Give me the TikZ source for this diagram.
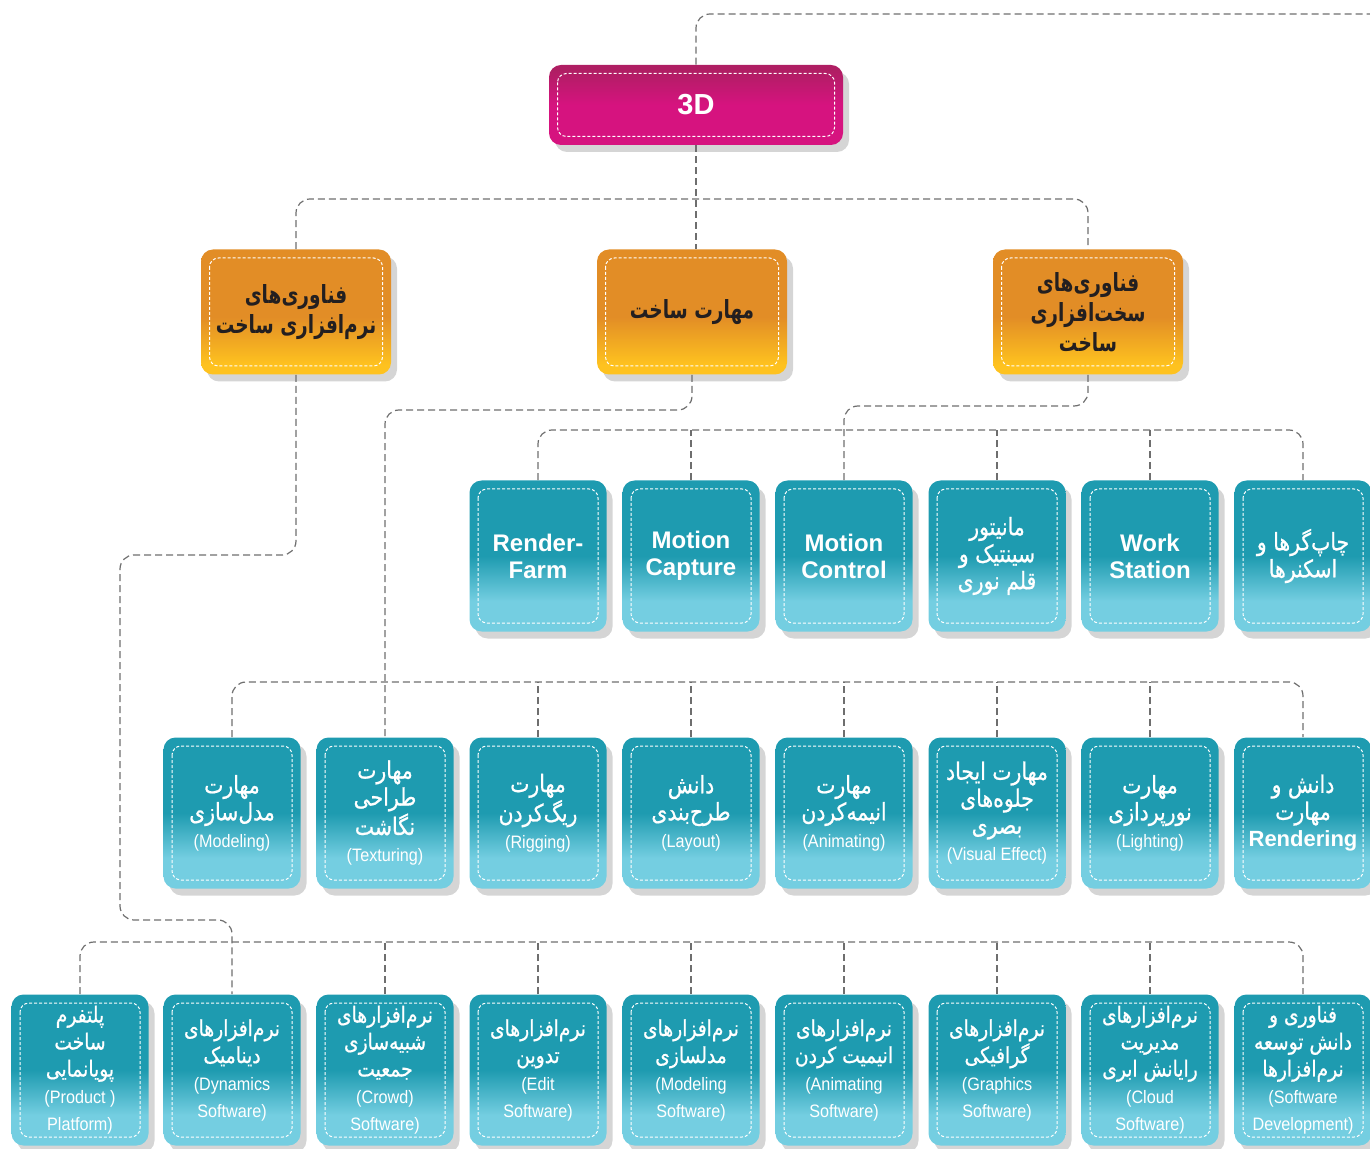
\documentclass[tikz,border=0pt]{standalone}
\usepackage{fontspec}
\setmainfont{Liberation Sans}
\newfontfamily\farsi[Script=Arabic,FakeStretch=0.85,FakeBold=0.8]{DejaVu Sans}
\newfontfamily\farsin[Script=Arabic,FakeStretch=0.74]{DejaVu Sans}
\newfontfamily\narrow[FakeStretch=0.9]{Liberation Sans}
\TeXXeTstate=1
\usetikzlibrary{shadows}
\definecolor{tealD}{RGB}{30,155,176}
\definecolor{tealL}{RGB}{116,206,225}
\definecolor{ora}{RGB}{226,141,38}
\definecolor{yel}{RGB}{254,194,31}
\definecolor{mag}{RGB}{214,19,127}
\definecolor{magD}{RGB}{175,30,99}
\definecolor{ink}{RGB}{35,31,32}
\definecolor{wire}{RGB}{110,110,110}
\definecolor{shd}{RGB}{213,213,213}
\pgfdeclareverticalshading{tealfade}{100bp}{color(0bp)=(tealL); color(35bp)=(tealL); color(50bp)=(tealD); color(100bp)=(tealD)}
\pgfdeclareverticalshading{orafade}{100bp}{color(0bp)=(yel); color(29bp)=(yel); color(48bp)=(ora); color(100bp)=(ora)}
\pgfdeclareverticalshading{magfade}{100bp}{color(0bp)=(mag); color(50bp)=(mag); color(72bp)=(magD); color(100bp)=(magD)}
\newcommand{\fa}[1]{{\farsi\beginR #1\endR}}
\newcommand{\fb}[1]{{\farsin\beginR #1\endR}}
\newcommand{\fs}[1]{{\farsi\fontsize{11}{13}\selectfont\beginR #1\endR}}
\newcommand{\pn}[1]{{\narrow\fontsize{9}{10.5}\selectfont #1}}

\begin{document}
\begin{tikzpicture}[x=0.5pt,y=-0.5pt,
  box/.style={rounded corners=6pt,inner sep=1pt,align=center,text=white,
    drop shadow={shadow xshift=3pt,shadow yshift=-3.5pt,fill=shd,opacity=1},
    path picture={\draw[white,line width=0.5pt,dash pattern=on 1.5pt off 1pt,rounded corners=4.5pt]
      ([shift={(4.25pt,-4.25pt)}]path picture bounding box.north west) rectangle
      ([shift={(-4.25pt,4.25pt)}]path picture bounding box.south east);}},
  tbox/.style={box,shading=tealfade,minimum width=68.5pt,minimum height=75.5pt,
    font=\fontsize{12}{13.5}\selectfont},
  obox/.style={box,shading=orafade,minimum width=95pt,minimum height=62.5pt,text=ink,
    font=\bfseries\fontsize{12.5}{15}\selectfont},
  rbox/.style={box,shading=magfade,minimum width=147pt,minimum height=40pt,
    font=\bfseries\fontsize{14.5}{16}\selectfont},
  conn/.style={draw=wire,line width=0.6pt,dash pattern=on 3.5pt off 2pt,rounded corners=7pt}]
\useasboundingbox (0,0) rectangle (1370,1149);

\node[rbox] (R) at (696,105) {3D};

\node[obox] (L1) at (296,312) {\fb{فناوری‌های}\\\fb{نرم‌افزاری ساخت}};
\node[obox] (L2) at (692,312) {\fb{مهارت ساخت}};
\node[obox] (L3) at (1088,312) {\fb{فناوری‌های}\\\fb{سخت‌افزاری}\\\fb{ساخت}};

\node[tbox] (H1) at (538,556) {\textbf{Render-}\\\textbf{Farm}};
\node[tbox] (H2) at (691,556) {\textbf{Motion}\\\textbf{Capture}};
\node[tbox] (H3) at (844,556) {\textbf{Motion}\\\textbf{Control}};
\node[tbox] (H4) at (997,556) {\fa{مانیتور}\\\fa{سینتیک و}\\\fa{قلم نوری}};
\node[tbox] (H5) at (1150,556) {\textbf{Work}\\\textbf{Station}};
\node[tbox] (H6) at (1303,556) {\fa{چاپ‌گرها و}\\\fa{اسکنرها}};

\node[tbox] (S1) at (232,813) {\fa{مهارت}\\\fa{مدل‌سازی}\\\pn{(Modeling)}};
\node[tbox] (S2) at (385,813) {\fa{مهارت}\\\fa{طراحی}\\\fa{نگاشت}\\\pn{(Texturing)}};
\node[tbox] (S3) at (538,813) {\fa{مهارت}\\\fa{ریگ‌کردن}\\\pn{(Rigging)}};
\node[tbox] (S4) at (691,813) {\fa{دانش}\\\fa{طرح‌بندی}\\\pn{(Layout)}};
\node[tbox] (S5) at (844,813) {\fa{مهارت}\\\fa{انیمه‌کردن}\\\pn{(Animating)}};
\node[tbox] (S6) at (997,813) {\fa{مهارت ایجاد}\\\fa{جلوه‌های}\\\fa{بصری}\\\pn{(Visual Effect)}};
\node[tbox] (S7) at (1150,813) {\fa{مهارت}\\\fa{نورپردازی}\\\pn{(Lighting)}};
\node[tbox] (S8) at (1303,813) {\fa{دانش و}\\\fa{مهارت}\\{\fontsize{11}{13}\selectfont\textbf{Rendering}}};

\node[tbox] (P1) at (80,1070) {\fs{پلتفرم}\\\fs{ساخت}\\\fs{پویانمایی}\\\pn{(Product )}\\\pn{Platform)}};
\node[tbox] (P2) at (232,1070) {\fs{نرم‌افزارهای}\\\fs{دینامیک}\\\pn{(Dynamics}\\\pn{Software)}};
\node[tbox] (P3) at (385,1070) {\fs{نرم‌افزارهای}\\\fs{شبیه‌سازی}\\\fs{جمعیت}\\\pn{(Crowd)}\\\pn{Software)}};
\node[tbox] (P4) at (538,1070) {\fs{نرم‌افزارهای}\\\fs{تدوین}\\\pn{(Edit}\\\pn{Software)}};
\node[tbox] (P5) at (691,1070) {\fs{نرم‌افزارهای}\\\fs{مدلسازی}\\\pn{(Modeling}\\\pn{Software)}};
\node[tbox] (P6) at (844,1070) {\fs{نرم‌افزارهای}\\\fs{انیمیت کردن}\\\pn{(Animating}\\\pn{Software)}};
\node[tbox] (P7) at (997,1070) {\fs{نرم‌افزارهای}\\\fs{گرافیکی}\\\pn{(Graphics}\\\pn{Software)}};
\node[tbox] (P8) at (1150,1070) {\fs{نرم‌افزارهای}\\\fs{مدیریت}\\\fs{رایانش ابری}\\\pn{(Cloud}\\\pn{Software)}};
\node[tbox] (P9) at (1303,1070) {\fs{فناوری و}\\\fs{دانش توسعه}\\\fs{نرم‌افزارها}\\\pn{(Software}\\\pn{Development)}};

\coordinate (top) at (1372,14);
\coordinate (busA) at (696,199);
\coordinate (bendH) at (0,406);
\coordinate (busH) at (900,430);
\coordinate (bendS) at (0,410);
\coordinate (busS) at (700,682);
\coordinate (bendP1) at (120,555);
\coordinate (bendP2) at (0,920);
\coordinate (busP) at (700,942);

\begin{scope}[conn]
\draw (R.north) |- (top);
\draw (L1.north) |- (busA) -| (L3.north);
\draw (R.south) -- (R.south |- L2.north);
\draw (L3.south) |- (bendH -| H3.north) -- (H3.north);
\draw (H1.north) |- (busH) -| (H6.north);
\draw (H2.north) -- (H2.north |- busH);
\draw (H4.north) -- (H4.north |- busH);
\draw (H5.north) -- (H5.north |- busH);
\draw (L2.south) |- (bendS -| S2.north) -- (S2.north);
\draw (S1.north) |- (busS) -| (S8.north);
\draw (S3.north) -- (S3.north |- busS);
\draw (S4.north) -- (S4.north |- busS);
\draw (S5.north) -- (S5.north |- busS);
\draw (S6.north) -- (S6.north |- busS);
\draw (S7.north) -- (S7.north |- busS);
\draw (L1.south) |- (bendP1) |- (bendP2 -| P2.north) -- (P2.north);
\draw (P1.north) |- (busP) -| (P9.north);
\draw (P3.north) -- (P3.north |- busP);
\draw (P4.north) -- (P4.north |- busP);
\draw (P5.north) -- (P5.north |- busP);
\draw (P6.north) -- (P6.north |- busP);
\draw (P7.north) -- (P7.north |- busP);
\draw (P8.north) -- (P8.north |- busP);
\end{scope}
\end{tikzpicture}
\end{document}
